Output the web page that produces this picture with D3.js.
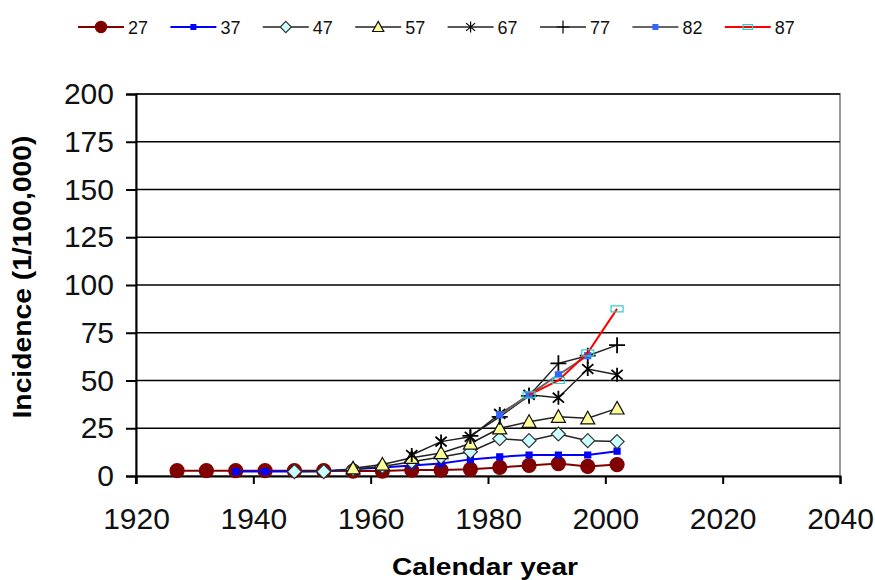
<!DOCTYPE html>
<html>
<head>
  <title>Incidence by calendar year</title>
  <script src="https://d3js.org/d3.v7.min.js"></script>
  <style>
    body { margin: 0; background: #fff; }
    text { font-family: Arial, "Liberation Sans", sans-serif; }
  </style>
</head>
<body>
  <svg id="chart"></svg>
  <script>
    // calendar years of the observations
    const years = [1927, 1932, 1937, 1942, 1947, 1952, 1957, 1962, 1967, 1972, 1977, 1982, 1987, 1992, 1997, 2002];

    // incidence per 100,000, one list per series (null = no value that year)
    const s27 = [2.8, 2.8, 2.8, 2.8, 2.8, 2.8, 2.6, 2.6, 3.1, 3.1, 3.5, 4.5, 5.5, 6.5, 5, 6];
    const s37 = [null, null, 2.3, 2.3, 2.3, 2.5, 3.5, 4.5, 5.5, 6.6, 8.7, 10, 11, 11, 11, 13];
    const s47 = [null, null, null, null, 2.3, 2.3, 3.5, 5, 7.5, 10, 12.7, 19.5, 18.5, 22, 18.5, 18];
    const s57 = [null, null, null, null, null, null, 4, 6, 9.5, 12, 17, 25, 28.4, 31, 30.2, 35.4];
    const s67 = [null, null, null, null, null, null, null, null, 11, 18, 20.5, 32.5, 42.5, 41, 56, 53];
    const s77 = [null, null, null, null, null, null, null, null, null, null, 21, 31, 42, 59, 63, 68.5];
    const s82 = [null, null, null, null, null, null, null, null, null, null, null, 32, 42.5, 53, 63, null];
    const s87 = [null, null, null, null, null, null, null, null, null, null, null, null, 42.5, 50, 64.5, 87.5];

    const seriesNames = ["27", "37", "47", "57", "67", "77", "82", "87"];
    const seriesValues = [s27, s37, s47, s57, s67, s77, s82, s87];

    const xTicks = [1920, 1940, 1960, 1980, 2000, 2020, 2040];
    const yTicks = [0, 25, 50, 75, 100, 125, 150, 175, 200];

    // look of each series: line colour, marker kind, marker fill / stroke
    const styles = {
      "27": { line: "#800000", lw: 2, marker: "circle", fill: "#800000", stroke: "#800000", size: 7 },
      "37": { line: "#0000ff", lw: 2, marker: "square", fill: "#0000ff", stroke: "#0000ff", size: 3 },
      "47": { line: "#222", lw: 1.5, marker: "diamond", fill: "#ccffff", stroke: "#333", size: 7 },
      "57": { line: "#222", lw: 1.5, marker: "triangle", fill: "#ffff99", stroke: "#111", size: 7 },
      "67": { line: "#222", lw: 1.5, marker: "star", fill: "none", stroke: "#000", size: 7 },
      "77": { line: "#222", lw: 1.5, marker: "plus", fill: "none", stroke: "#000", size: 8 },
      "82": { line: "#666", lw: 2, marker: "square", fill: "#3366ff", stroke: "#3366ff", size: 3 },
      "87": { line: "#ff0000", lw: 2, marker: "rect", fill: "none", stroke: "#33cccc", size: 6 }
    };

    const W = 875, H = 580;
    const svg = d3.select("#chart").attr("width", W).attr("height", H);

    const x = d3.scaleLinear().domain([1920, 2040]).range([136, 840]);
    const y = d3.scaleLinear().domain([0, 200]).range([476, 94]);

    // marker path centred on 0,0
    function markerPath(kind, s) {
      switch (kind) {
        case "circle": return d3.symbol(d3.symbolCircle, Math.PI * s * s)();
        case "square": return `M${-s},${-s}H${s}V${s}H${-s}Z`;
        case "diamond": return `M0,${-s}L${s},0L0,${s}L${-s},0Z`;
        case "triangle": return `M0,${-s}L${s},${s * 0.8}L${-s},${s * 0.8}Z`;
        case "star": return `M0,${-s}V${s}M${-s * 0.8},${-s * 0.7}L${s * 0.8},${s * 0.7}M${-s * 0.8},${s * 0.7}L${s * 0.8},${-s * 0.7}`;
        case "plus": return `M0,${-s}V${s}M${-s},0H${s}`;
        case "rect": return `M${-s},${-s / 2}H${s}V${s / 2}H${-s}Z`;
      }
    }

    // plot area border
    svg.append("rect")
      .attr("x", x(1920)).attr("y", y(200))
      .attr("width", x(2040) - x(1920)).attr("height", y(0) - y(200))
      .attr("fill", "none").attr("stroke", "#999").attr("stroke-width", 2);

    // horizontal gridlines
    svg.append("g")
      .selectAll("line")
      .data(yTicks.filter(d => d > 0))
      .enter().append("line")
      .attr("x1", x(1920)).attr("x2", x(2040))
      .attr("y1", d => y(d)).attr("y2", d => y(d))
      .attr("stroke", "#000").attr("stroke-width", 1.5);

    // axes
    const yAxis = svg.append("g")
      .attr("transform", `translate(${x(1920)},0)`)
      .call(d3.axisLeft(y).tickValues(yTicks).tickSize(10).tickPadding(12));
    const xAxis = svg.append("g")
      .attr("transform", `translate(0,${y(0)})`)
      .call(d3.axisBottom(x).tickValues(xTicks).tickFormat(d3.format("d")).tickSize(8).tickPadding(24));

    [yAxis, xAxis].forEach(a => {
      a.select(".domain").attr("stroke", "#000").attr("stroke-width", 2);
      a.selectAll(".tick line").attr("stroke", "#000").attr("stroke-width", 2);
      a.selectAll(".tick text").attr("fill", "#111").style("font-size", "30px")
        .style("font-family", "Arial, 'Liberation Sans', sans-serif");
    });
    // left axis runs a bit below zero, like the original
    svg.append("line")
      .attr("x1", x(1920)).attr("x2", x(1920))
      .attr("y1", y(0)).attr("y2", y(0) + 8)
      .attr("stroke", "#000").attr("stroke-width", 2);

    // series lines and markers
    const line = d3.line()
      .defined(d => d.v != null)
      .x(d => x(d.year))
      .y(d => y(d.v));

    seriesNames.forEach((name, i) => {
      const st = styles[name];
      const pts = years.map((yr, j) => ({ year: yr, v: seriesValues[i][j] }));
      const g = svg.append("g");
      g.append("path")
        .datum(pts)
        .attr("fill", "none")
        .attr("stroke", st.line)
        .attr("stroke-width", st.lw)
        .attr("d", line);
      g.selectAll("path.m")
        .data(pts.filter(d => d.v != null))
        .enter().append("path")
        .attr("class", "m")
        .attr("transform", d => `translate(${x(d.year)},${y(d.v)})`)
        .attr("d", markerPath(st.marker, st.size))
        .attr("fill", st.fill)
        .attr("stroke", st.stroke)
        .attr("stroke-width", st.marker === "star" || st.marker === "plus" ? 1.8 : 1.2);
    });

    // legend
    const legend = svg.append("g").attr("transform", "translate(78,27)");
    seriesNames.forEach((name, i) => {
      const st = styles[name];
      const g = legend.append("g").attr("transform", `translate(${i * 92.4},0)`);
      g.append("line").attr("x1", 0).attr("x2", 46).attr("y1", 0).attr("y2", 0)
        .attr("stroke", st.line).attr("stroke-width", st.lw);
      g.append("path")
        .attr("transform", "translate(23,0)")
        .attr("d", markerPath(st.marker, st.size * 0.8))
        .attr("fill", st.fill).attr("stroke", st.stroke)
        .attr("stroke-width", 1.2);
      g.append("text")
        .attr("x", 50).attr("y", 7)
        .style("font-size", "18px").attr("fill", "#111")
        .text(name);
    });

    // axis titles
    svg.append("text")
      .attr("x", 485).attr("y", 575)
      .attr("text-anchor", "middle")
      .attr("textLength", 186).attr("lengthAdjust", "spacingAndGlyphs")
      .style("font-size", "24px").style("font-weight", "bold")
      .text("Calendar year");
    svg.append("text")
      .attr("transform", "translate(31,277) rotate(-90)")
      .attr("text-anchor", "middle")
      .attr("textLength", 283).attr("lengthAdjust", "spacingAndGlyphs")
      .style("font-size", "25px").style("font-weight", "bold")
      .text("Incidence (1/100,000)");
  </script>
</body>
</html>
